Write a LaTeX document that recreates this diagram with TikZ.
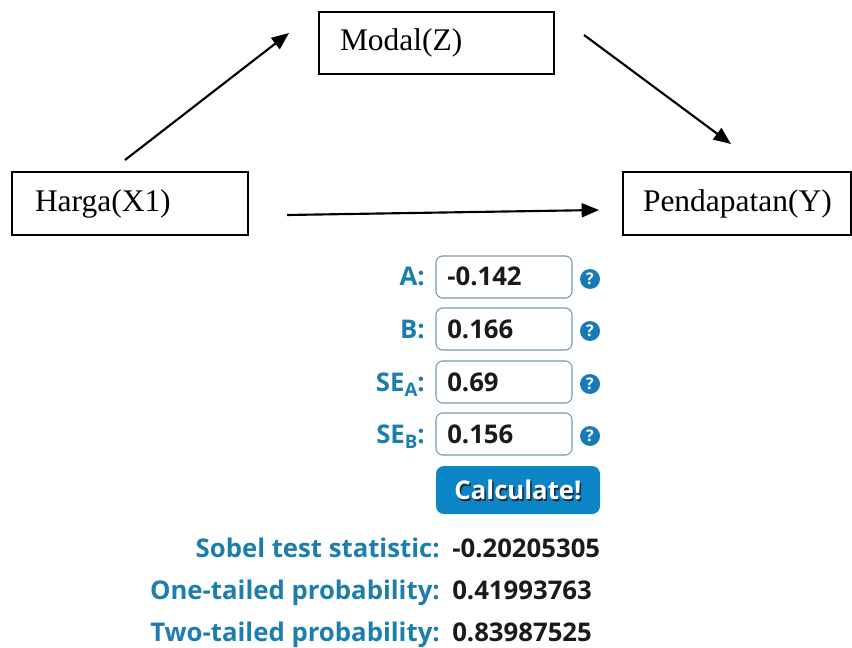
\documentclass[tikz,border=0pt]{standalone}
\usepackage{fontspec}
\setmainfont{Liberation Serif}
\newfontfamily\uifont{Open Sans}
\usetikzlibrary{arrows.meta}

\definecolor{lblblue}{RGB}{28,126,172}
\definecolor{iconblue}{RGB}{24,122,182}
\definecolor{btnblue}{RGB}{12,133,198}
\definecolor{fieldline}{RGB}{120,150,172}
\definecolor{valtext}{RGB}{26,26,26}
\definecolor{shadowtxt}{RGB}{20,40,60}

\newcommand{\uitext}{\uifont\bfseries\fontsize{19.3}{22}\selectfont}

\tikzset{
  varbox/.style={draw, line width=1pt, align=left, font=\fontsize{23.6}{28}\selectfont,
    minimum height=47.25pt, inner ysep=0pt},
  arrowline/.style={line width=1.6pt, -{Triangle[length=13pt,width=10.5pt]}},
  fieldlabel/.style={anchor=base east, text=lblblue, font=\uitext, inner sep=0pt},
  fieldbox/.style={draw=fieldline, line width=0.8pt, rounded corners=5pt, minimum width=102pt,
    minimum height=31.5pt, text width=85.5pt, inner xsep=8.25pt, align=left, text=valtext,
    font=\uitext},
  fieldvalue/.style={anchor=base west, text=valtext, font=\uitext, inner sep=0pt},
  helpicon/.style={circle, fill=iconblue, minimum size=15pt, inner sep=0pt, text=white,
    font=\uifont\bfseries\fontsize{12}{12}\selectfont},
  resultvalue/.style={anchor=base west, text=valtext, font=\uitext, inner sep=0pt},
}

\begin{document}
\begin{tikzpicture}[x=0.75pt, y=-0.75pt]
\useasboundingbox (0,0) rectangle (852,648);

% mediation model
\node[varbox, minimum width=177pt, text width=142.5pt, inner xsep=17.25pt] (x1) at (130,203.5) {Harga(X1)};
\node[varbox, minimum width=176.25pt, text width=144.75pt, inner xsep=15.75pt, minimum height=46.5pt] (z) at (436.5,43) {Modal(Z)};
\node[varbox, minimum width=171pt, text width=141pt, inner xsep=15pt] (y) at (737,203.5) {Pendapatan(Y)};

\coordinate (a1) at (125,160);
\coordinate (a2) at (289,33);
\coordinate (b1) at (584,35);
\coordinate (b2) at (731,144);
\coordinate (c1) at (287,215);
\coordinate (c2) at (599,210);
\draw[arrowline] (a1) -- (a2);
\draw[arrowline] (b1) -- (b2);
\draw[arrowline] (c1) -- (c2);

% Sobel test calculator inputs
\node[fieldlabel] (la) at (425,286) {A:};
\node[fieldlabel] (lb) at (425,338) {B:};
\node[fieldlabel] (lsa) at (425,391) {SE\raisebox{-4pt}{\fontsize{14}{14}\selectfont A}:};
\node[fieldlabel] (lsb) at (425,443) {SE\raisebox{-4pt}{\fontsize{14}{14}\selectfont B}:};

\node[fieldbox] (fa) at (504,277) {};
\node[fieldbox] (fb) at (504,329) {};
\node[fieldbox] (fsa) at (504,382) {};
\node[fieldbox] (fsb) at (504,434) {};
\node[fieldvalue] (va) at (447,286) {-0.142};
\node[fieldvalue] (vb) at (447,338) {0.166};
\node[fieldvalue] (vsa) at (447,391) {0.69};
\node[fieldvalue] (vsb) at (447,443) {0.156};

\node[helpicon] (ha) at (590,279) {?};
\node[helpicon] (hb) at (590,331) {?};
\node[helpicon] (hsa) at (590,384) {?};
\node[helpicon] (hsb) at (590,436) {?};

% calculate button
\node[fill=btnblue, rounded corners=6pt, minimum width=123pt, minimum height=36pt] (btn) at (518,490) {};
\node[text=shadowtxt, font=\uitext] (btnshadow) at (519.5,491.5) {Calculate!};
\node[text=white, font=\uitext] (btntext) at (518,490) {Calculate!};

% results
\node[fieldlabel] (r1) at (440,557) {Sobel test statistic:};
\node[fieldlabel] (r2) at (440,599) {One-tailed probability:};
\node[fieldlabel] (r3) at (440,641) {Two-tailed probability:};
\node[resultvalue] (v1) at (452,557) {-0.20205305};
\node[resultvalue] (v2) at (452,599) {0.41993763};
\node[resultvalue] (v3) at (452,641) {0.83987525};
\end{tikzpicture}
\end{document}
